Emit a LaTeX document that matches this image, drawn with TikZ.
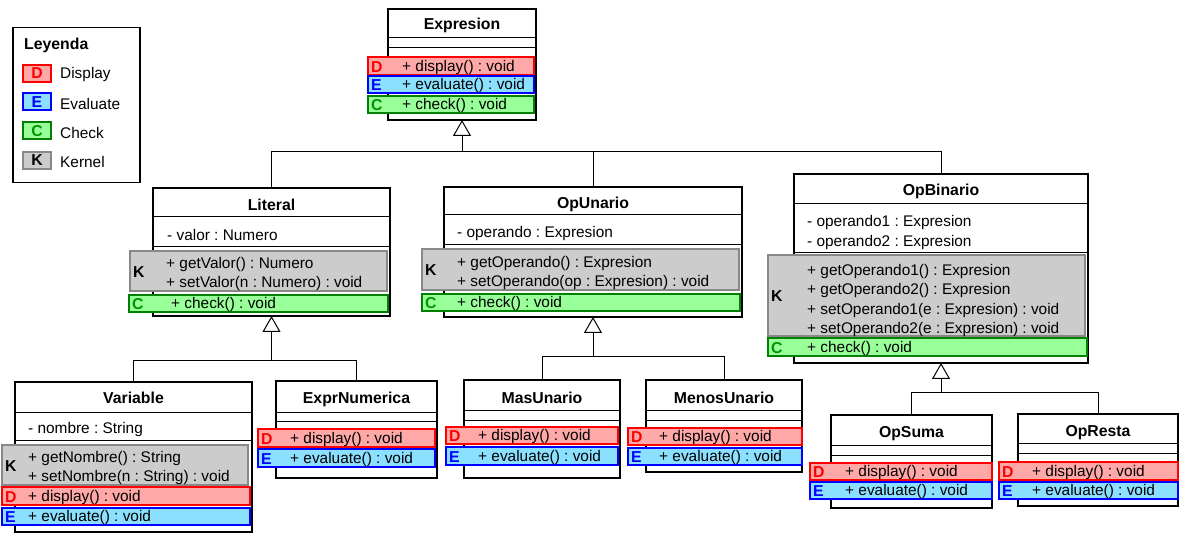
\documentclass[tikz,border=0pt]{standalone}
\usepackage{fontspec}
\setmainfont{Liberation Sans}
\usetikzlibrary{arrows.meta}

\definecolor{dfill}{RGB}{255,168,168}
\definecolor{dline}{RGB}{255,0,0}
\definecolor{efill}{RGB}{140,224,255}
\definecolor{eline}{RGB}{0,0,255}
\definecolor{cfill}{RGB}{153,255,153}
\definecolor{cline}{RGB}{0,128,0}
\definecolor{ctext}{RGB}{0,150,0}
\definecolor{kfill}{RGB}{204,204,204}
\definecolor{kline}{RGB}{136,136,136}

\newcommand{\umlfs}{\fontsize{15.4}{18}\selectfont}
\newcommand{\umlbf}{\fontsize{15.8}{18}\selectfont\bfseries}
\frenchspacing

\tikzset{
  cls/.style={draw=black, line width=2pt, fill=white, inner sep=0pt, outer sep=0pt, anchor=north west},
  sepline/.style={line width=1pt},
  drow/.style={draw=dline, fill=dfill, line width=2pt},
  erow/.style={draw=eline, fill=efill, line width=2pt},
  crow/.style={draw=cline, fill=cfill, line width=2pt},
  krow/.style={draw=kline, fill=kfill, line width=2pt},
  drowletter/.style={text=dline},
  erowletter/.style={text=eline},
  crowletter/.style={text=ctext},
  krowletter/.style={text=black},
  letter/.style={inner sep=0pt, font=\umlbf, yshift=-1pt},
  txt/.style={inner sep=0pt, anchor=west, font=\umlfs, yshift=-1.5pt},
  title/.style={inner sep=0pt, font=\umlbf, yshift=-1pt},
  conn/.style={line width=1pt},
  inh/.style={line width=1pt, -{Triangle[open, length=16pt, width=18pt]}},
  swatch/.style={minimum width=28pt, minimum height=17pt, inner sep=0pt, font=\umlbf},
}

% a coloured method row: style, letter node name, x1, y1, x2, y2, letter
\newcommand{\mrow}[7]{%
  \draw[#1] (#3,#4) rectangle (#5,#6);
  \node[letter, #1letter, anchor=west] (#2) at ({#3+3}, {(#4+#6)/2}) {#7};
}

\begin{document}
\begin{tikzpicture}[x=1pt, y=-1pt]
\useasboundingbox (0,0) rectangle (1183,534);

% ---------- legend ----------
\node[draw, line width=1.5pt, fill=white, minimum width=127pt, minimum height=155pt,
      anchor=north west, inner sep=0pt] (leg) at (12,27) {};
\node[title, anchor=west] (legT) at (24,44) {Leyenda};
\node[swatch, drow, text=dline] (legD) at (37,73.5) {D};
\node[swatch, erow, text=eline] (legE) at (37,102) {E};
\node[swatch, crow, text=ctext] (legC) at (37,131) {C};
\node[swatch, krow, text=black] (legK) at (37,160.5) {K};
\node[txt] (legDl) at (60,73.5) {Display};
\node[txt] (legEl) at (60,102) {Evaluate};
\node[txt] (legCl) at (60,131) {Check};
\node[txt] (legKl) at (60,160.5) {Kernel};

% ---------- Expresion ----------
\node[cls, minimum width=148pt, minimum height=111pt] (expr) at (388,9) {};
\draw[sepline] (388,38) -- (536,38);
\draw[sepline] (388,48) -- (536,48);
\node[title] (exprN) at (462,24) {Expresion};
\mrow{drow}{exprD}{368}{57}{534}{75}{D}
\mrow{erow}{exprE}{368}{76}{534}{93}{E}
\mrow{crow}{exprC}{368}{96}{534}{113}{C}
\node[txt] (exprM1) at (402,66) {+ display() : void};
\node[txt] (exprM2) at (402,84.5) {+ evaluate() : void};
\node[txt] (exprM3) at (402,104.5) {+ check() : void};

% ---------- Literal ----------
\node[cls, minimum width=237pt, minimum height=128pt] (lit) at (153,188) {};
\draw[sepline] (153,217) -- (390,217);
\draw[sepline] (153,247) -- (390,247);
\node[title] (litN) at (271.5,204) {Literal};
\node[txt] (litA1) at (167,233) {- valor : Numero};
\mrow{krow}{litK}{130}{251}{387}{291}{K}
\node[txt] (litM1) at (166,263) {+ getValor() : Numero};
\node[txt] (litM2) at (166,282.5) {+ setValor(n : Numero) : void};
\mrow{crow}{litC}{129}{295}{388}{312}{C}
\node[txt] (litM3) at (171,303.5) {+ check() : void};

% ---------- OpUnario ----------
\node[cls, minimum width=298pt, minimum height=130pt] (opu) at (444,187) {};
\draw[sepline] (444,215) -- (742,215);
\draw[sepline] (444,245) -- (742,245);
\node[title] (opuN) at (593,203) {OpUnario};
\node[txt] (opuA1) at (457,232) {- operando : Expresion};
\mrow{krow}{opuK}{422}{249}{739}{290}{K}
\node[txt] (opuM1) at (457,262) {+ getOperando() : Expresion};
\node[txt] (opuM2) at (457,281.5) {+ setOperando(op : Expresion) : void};
\mrow{crow}{opuC}{422}{294}{740}{311}{C}
\node[txt] (opuM3) at (457,302) {+ check() : void};

% ---------- OpBinario ----------
\node[cls, minimum width=294pt, minimum height=189pt] (opb) at (794,174) {};
\draw[sepline] (794,204) -- (1088,204);
\draw[sepline] (794,253) -- (1088,253);
\node[title] (opbN) at (941,190) {OpBinario};
\node[txt] (opbA1) at (807,221) {- operando1 : Expresion};
\node[txt] (opbA2) at (807,241) {- operando2 : Expresion};
\mrow{krow}{opbK}{768}{255}{1085}{336}{K}
\node[txt] (opbM1) at (807,270) {+ getOperando1() : Expresion};
\node[txt] (opbM2) at (807,289) {+ getOperando2() : Expresion};
\node[txt] (opbM3) at (807,309) {+ setOperando1(e : Expresion) : void};
\node[txt] (opbM4) at (807,328) {+ setOperando2(e : Expresion) : void};
\mrow{crow}{opbC}{768}{338}{1087}{356}{C}
\node[txt] (opbM5) at (807,347) {+ check() : void};

% ---------- Variable ----------
\node[cls, minimum width=237pt, minimum height=150pt] (var) at (15,382) {};
\draw[sepline] (15,412) -- (252,412);
\draw[sepline] (15,440) -- (252,440);
\node[title] (varN) at (133.5,397) {Variable};
\node[txt] (varA1) at (28,428) {- nombre : String};
\mrow{krow}{varK}{2}{445}{248}{485}{K}
\node[txt] (varM1) at (28,457) {+ getNombre() : String};
\node[txt] (varM2) at (28,476) {+ setNombre(n : String) : void};
\mrow{drow}{varD}{2}{487}{250}{505}{D}
\node[txt] (varM3) at (28,496) {+ display() : void};
\mrow{erow}{varE}{2}{508}{250}{525}{E}
\node[txt] (varM4) at (28,516) {+ evaluate() : void};

% ---------- ExprNumerica ----------
\node[cls, minimum width=161pt, minimum height=97pt] (num) at (276,381) {};
\draw[sepline] (276,412) -- (437,412);
\draw[sepline] (276,421) -- (437,421);
\node[title] (numN) at (356.5,398) {ExprNumerica};
\mrow{drow}{numD}{258}{429}{435}{447}{D}
\node[txt] (numM1) at (290,438) {+ display() : void};
\mrow{erow}{numE}{258}{449}{435}{467}{E}
\node[txt] (numM2) at (290,458) {+ evaluate() : void};

% ---------- MasUnario ----------
\node[cls, minimum width=156pt, minimum height=98pt] (mas) at (464,380) {};
\draw[sepline] (464,410) -- (620,410);
\draw[sepline] (464,420) -- (620,420);
\node[title] (masN) at (542,397) {MasUnario};
\mrow{drow}{masD}{446}{427}{618}{444}{D}
\node[txt] (masM1) at (478,435.5) {+ display() : void};
\mrow{erow}{masE}{446}{447}{618}{465}{E}
\node[txt] (masM2) at (478,456) {+ evaluate() : void};

% ---------- MenosUnario ----------
\node[cls, minimum width=156pt, minimum height=92pt] (menos) at (646,380) {};
\draw[sepline] (646,410) -- (802,410);
\draw[sepline] (646,420) -- (802,420);
\node[title] (menosN) at (724,397) {MenosUnario};
\mrow{drow}{menosD}{628}{428}{802}{445}{D}
\node[txt] (menosM1) at (659,436.5) {+ display() : void};
\mrow{erow}{menosE}{628}{448}{802}{465}{E}
\node[txt] (menosM2) at (659,456.5) {+ evaluate() : void};

% ---------- OpSuma ----------
\node[cls, minimum width=161pt, minimum height=93pt] (suma) at (831,415) {};
\draw[sepline] (831,445) -- (992,445);
\draw[sepline] (831,455) -- (992,455);
\node[title] (sumaN) at (911.5,433) {OpSuma};
\mrow{drow}{sumaD}{810}{463}{992}{480}{D}
\node[txt] (sumaM1) at (845,471.5) {+ display() : void};
\mrow{erow}{sumaE}{810}{482}{992}{499}{E}
\node[txt] (sumaM2) at (845,490.5) {+ evaluate() : void};

% ---------- OpResta ----------
\node[cls, minimum width=160pt, minimum height=92pt] (resta) at (1018,414) {};
\draw[sepline] (1018,443) -- (1178,443);
\draw[sepline] (1018,453) -- (1178,453);
\node[title] (restaN) at (1098,432) {OpResta};
\mrow{drow}{restaD}{999}{462}{1178}{480}{D}
\node[txt] (restaM1) at (1032,471) {+ display() : void};
\mrow{erow}{restaE}{999}{482}{1178}{499}{E}
\node[txt] (restaM2) at (1032,490.5) {+ evaluate() : void};

% ---------- generalisations ----------
\coordinate (j0) at (462,152);
\draw[conn] (lit.north) |- (j0);
\draw[conn] (opu.north) |- (j0);
\draw[conn] (opb.north) |- (j0);
\draw[inh] (j0) -- (expr.south);

\coordinate (j1) at (271.5,361);
\draw[conn] (var.north) |- (j1);
\draw[conn] (num.north) |- (j1);
\draw[inh] (j1) -- (lit.south);

\coordinate (j2) at (593,357);
\draw[conn] (mas.north) |- (j2);
\draw[conn] (menos.north) |- (j2);
\draw[inh] (j2) -- (opu.south);

\coordinate (j3) at (941,392);
\draw[conn] (suma.north) |- (j3);
\draw[conn] (resta.north) |- (j3);
\draw[inh] (j3) -- (opb.south);
\end{tikzpicture}
\end{document}
